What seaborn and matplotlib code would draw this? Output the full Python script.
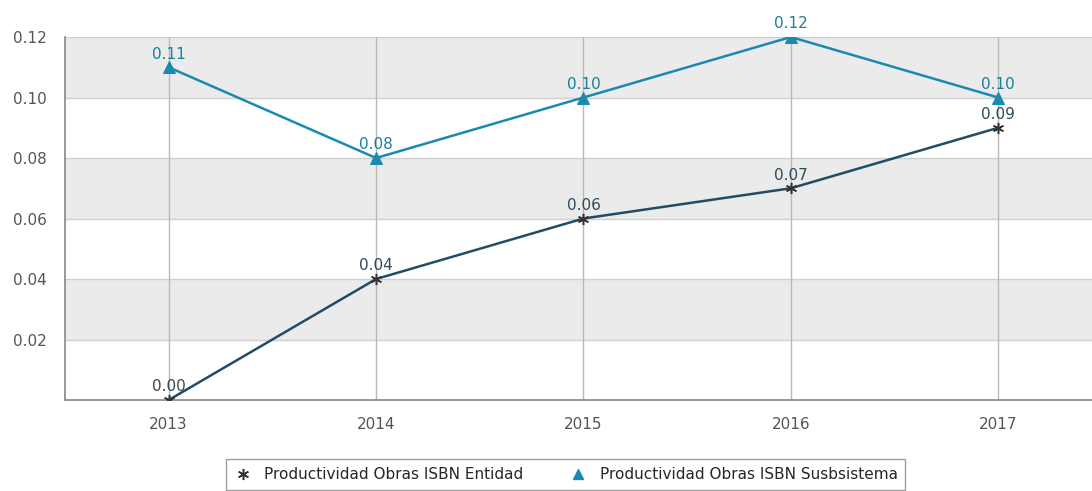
import seaborn as sns
import matplotlib.pyplot as plt
import pandas as pd
from matplotlib.lines import Line2D

years = [2013, 2014, 2015, 2016, 2017]
entidad = [0.00, 0.04, 0.06, 0.07, 0.09]
subsistema = [0.11, 0.08, 0.10, 0.12, 0.10]
y_ticks = [0.02, 0.04, 0.06, 0.08, 0.10, 0.12]
name_ent = "Productividad Obras ISBN Entidad"
name_sub = "Productividad Obras ISBN Susbsistema"

col_ent = "#224c66"
col_sub = "#1a8ab0"

sns.set_style("white")
plt.rcParams['font.family'] = ['DejaVu Sans']

fig = plt.figure(figsize=(10.92, 4.91), dpi=100)
ax = fig.add_axes([0.0595, 0.1853, 0.9496, 0.7393])

# alternating grey bands
for lo in [0.02, 0.06, 0.10]:
    ax.axhspan(lo, lo + 0.02, color="#ebebeb", zorder=0, lw=0)
for y in y_ticks:
    ax.axhline(y, color="#d0d0d0", lw=1, zorder=0.5)
for x in years:
    ax.axvline(x, color="#b8b8b8", lw=1, zorder=0.5)

df = pd.DataFrame({"year": years, name_ent: entidad, name_sub: subsistema})

sns.lineplot(data=df, x="year", y=name_ent, ax=ax, color=col_ent, lw=1.8,
             marker=(6, 2, 0), markersize=8, markeredgecolor="#333333",
             markeredgewidth=1.1, label=name_ent, zorder=3)
sns.lineplot(data=df, x="year", y=name_sub, ax=ax, color=col_sub, lw=1.8,
             marker="^", markersize=8, markeredgecolor=col_sub,
             label=name_sub, zorder=3)

for x, v in zip(years, entidad):
    ax.annotate(f"{v:.2f}", (x, v), xytext=(0, 4), textcoords="offset points",
                ha="center", va="bottom", fontsize=11, color="#2f4a58", zorder=4)
for x, v in zip(years, subsistema):
    ax.annotate(f"{v:.2f}", (x, v), xytext=(0, 4), textcoords="offset points",
                ha="center", va="bottom", fontsize=11, color="#1a7f9e", zorder=4)

ax.set_xlim(2012.5, 2017.5)
ax.set_ylim(0, 0.12)
ax.set_xticks(years)
ax.set_yticks(y_ticks)
ax.set_yticklabels([f"{t:.2f}" for t in y_ticks])
ax.set_xlabel("")
ax.set_ylabel("")
ax.tick_params(axis="both", labelsize=11, colors="#555555", length=0)
ax.tick_params(axis="x", pad=12)
ax.tick_params(axis="y", pad=13)

for s in ["top", "right"]:
    ax.spines[s].set_visible(False)
for s in ["left", "bottom"]:
    ax.spines[s].set_color("#888888")
    ax.spines[s].set_linewidth(1.2)

ax.get_legend().remove()
handles = [Line2D([], [], ls="none", marker=(6, 2, 0), markersize=8,
                  markeredgecolor="#333333", markeredgewidth=1.1),
           Line2D([], [], ls="none", marker="^", markersize=7,
                  color=col_sub)]
fig.legend(handles, [name_ent, name_sub], loc="upper center",
           bbox_to_anchor=(0.518, 0.08), ncol=2, frameon=True,
           fancybox=False, edgecolor="#888888", fontsize=11,
           handletextpad=0.8, columnspacing=3.0, borderpad=0.5,
           handlelength=1.2)

fig.savefig("out.png", dpi=100)
